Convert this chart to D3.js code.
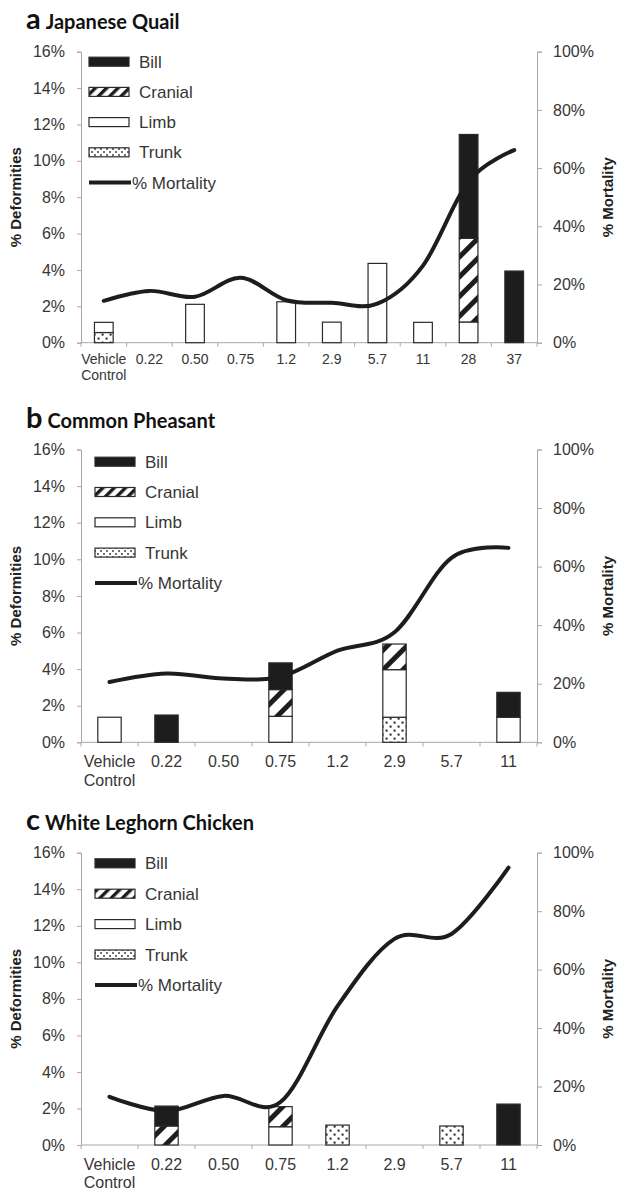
<!DOCTYPE html>
<html>
<head>
<meta charset="utf-8">
<script src="https://cdn.jsdelivr.net/npm/d3@7"></script>
<style>
  html, body { margin: 0; padding: 0; background: #fff; }
  svg { display: block; }
</style>
</head>
<body>
<script>
// Dose groups (µg/g egg) for each species
const dosesQuail = ["Vehicle Control", "0.22", "0.50", "0.75", "1.2", "2.9", "5.7", "11", "28", "37"];
const dosesPheasant = ["Vehicle Control", "0.22", "0.50", "0.75", "1.2", "2.9", "5.7", "11"];
const dosesChicken = ["Vehicle Control", "0.22", "0.50", "0.75", "1.2", "2.9", "5.7", "11"];

// % deformities by type (stacked) and % mortality, Japanese quail
const quailBill      = [0, 0, 0, 0, 0, 0, 0, 0, 5.71, 3.94];
const quailCranial   = [0, 0, 0, 0, 0, 0, 0, 0, 4.60, 0];
const quailLimb      = [0.56, 0, 2.11, 0, 2.25, 1.13, 4.36, 1.12, 1.14, 0];
const quailTrunk     = [0.56, 0, 0, 0, 0, 0, 0, 0, 0, 0];
const quailMortality = [14.4, 17.8, 15.8, 22.3, 14.6, 13.7, 13.4, 26.5, 55.5, 66.2];

// Common pheasant
const pheasantBill      = [0, 1.49, 0, 1.46, 0, 0, 0, 1.36];
const pheasantCranial   = [0, 0, 0, 1.46, 0, 1.40, 0, 0];
const pheasantLimb      = [1.37, 0, 0, 1.42, 0, 2.60, 0, 1.37];
const pheasantTrunk     = [0, 0, 0, 0, 0, 1.37, 0, 0];
const pheasantMortality = [20.6, 23.5, 21.8, 22.4, 31.3, 37.6, 63.0, 66.4];

// White Leghorn chicken
const chickenBill      = [0, 1.09, 0, 0, 0, 0, 0, 2.24];
const chickenCranial   = [0, 1.04, 0, 1.10, 0, 0, 0, 0];
const chickenLimb      = [0, 0, 0, 1.00, 0, 0, 0, 0];
const chickenTrunk     = [0, 0, 0, 0, 1.09, 0, 1.04, 0];
const chickenMortality = [16.5, 11.6, 16.8, 14.7, 47.5, 70.5, 72.2, 94.9];

// Axis ticks
const deformityTicks = [0, 2, 4, 6, 8, 10, 12, 14, 16];
const mortalityTicks = [0, 20, 40, 60, 80, 100];
const legendLabels = ["Bill", "Cranial", "Limb", "Trunk", "% Mortality"];
const stackKeys = ["Trunk", "Limb", "Cranial", "Bill"];

const W = 621, H = 1190;
const LEFT = 81, RIGHT = 537;
const AXIS_GREY = "#a8a8a8";
const TEXT_GREY = "#363636";
const INK = "#1d1d1d";
const SANS = "'Liberation Sans', Arial, Helvetica, sans-serif";
const TITLE_FONT = "Lato, 'Open Sans', 'Noto Sans', sans-serif";

const svg = d3.select("body").append("svg")
  .attr("width", W).attr("height", H)
  .attr("viewBox", `0 0 ${W} ${H}`);

// ---- fill patterns ----
const defs = svg.append("defs");

function hatch(id, period, stripe) {
  const p = defs.append("pattern")
    .attr("id", id).attr("patternUnits", "userSpaceOnUse")
    .attr("width", period).attr("height", period)
    .attr("patternTransform", "rotate(45)");
  p.append("rect").attr("width", period).attr("height", period).attr("fill", "#fff");
  p.append("rect").attr("width", stripe).attr("height", period).attr("fill", INK);
}
hatch("hatchBar", 14, 5);
hatch("hatchKey", 8, 3.4);

function dots(id, size, dot) {
  const p = defs.append("pattern")
    .attr("id", id).attr("patternUnits", "userSpaceOnUse")
    .attr("width", size).attr("height", size);
  p.append("rect").attr("width", size).attr("height", size).attr("fill", "#fff");
  p.append("rect").attr("x", size * 0.2).attr("y", size * 0.2).attr("width", dot).attr("height", dot).attr("fill", "#222");
  p.append("rect").attr("x", size * 0.7).attr("y", size * 0.7).attr("width", dot).attr("height", dot).attr("fill", "#222");
}
dots("dotsBar", 8, 2);
dots("dotsKey", 6, 1.6);

const barFill = { Bill: INK, Cranial: "url(#hatchBar)", Limb: "#fff", Trunk: "url(#dotsBar)" };
const keyFill = { Bill: INK, Cranial: "url(#hatchKey)", Limb: "#fff", Trunk: "url(#dotsKey)" };

function drawPanel(o) {
  const g = svg.append("g");
  const x = d3.scaleBand().domain(o.doses).range([LEFT, RIGHT])
    .paddingInner(0.59).paddingOuter(0.295);
  const y = d3.scaleLinear().domain([0, 16]).range([o.bottom, o.top]);
  const yR = d3.scaleLinear().domain([0, 100]).range([o.bottom, o.top]);

  // title
  const t = g.append("text")
    .attr("x", 26).attr("y", o.titleY)
    .attr("font-family", TITLE_FONT).attr("font-weight", 700).attr("fill", "#111");
  t.append("tspan").attr("font-size", 29).text(o.letter);
  t.append("tspan").attr("font-size", 20).attr("dx", 5).text(o.title);

  // left axis
  const ax = g.append("g").attr("transform", `translate(${LEFT},0)`)
    .call(d3.axisLeft(y).tickValues(deformityTicks).tickFormat(d => d + "%")
      .tickSize(4).tickPadding(12));
  // right axis
  const axR = g.append("g").attr("transform", `translate(${RIGHT},0)`)
    .call(d3.axisRight(yR).tickValues(mortalityTicks).tickFormat(d => d + "%")
      .tickSize(5).tickPadding(11));
  [ax, axR].forEach(a => {
    a.select(".domain").attr("stroke", AXIS_GREY);
    a.selectAll(".tick line").attr("stroke", AXIS_GREY);
    a.selectAll(".tick text").attr("fill", TEXT_GREY)
      .attr("font-family", SANS).attr("font-size", 16);
  });

  // category axis
  const step = x.step();
  g.append("line").attr("x1", LEFT).attr("x2", RIGHT)
    .attr("y1", o.bottom).attr("y2", o.bottom).attr("stroke", AXIS_GREY);
  g.selectAll(".xt").data(d3.range(o.doses.length + 1)).join("line")
    .attr("x1", i => LEFT + i * step).attr("x2", i => LEFT + i * step)
    .attr("y1", o.bottom).attr("y2", o.bottom + 4).attr("stroke", AXIS_GREY);
  const xl = g.selectAll(".xl").data(o.doses).join("text")
    .attr("text-anchor", "middle")
    .attr("font-family", SANS).attr("font-size", o.xFont).attr("fill", TEXT_GREY)
    .attr("y", o.bottom + o.xOffset);
  xl.each(function (d) {
    const cx = x(d) + x.bandwidth() / 2;
    const parts = d.split(" ");
    const sel = d3.select(this);
    parts.forEach((p, i) => {
      sel.append("tspan").attr("x", cx).attr("dy", i === 0 ? 0 : o.xLine).text(p);
    });
  });

  // axis titles
  const midY = (o.top + o.bottom) / 2;
  g.append("text").attr("transform", `translate(21,${midY}) rotate(-90)`)
    .attr("text-anchor", "middle").attr("font-family", SANS).attr("font-weight", 700)
    .attr("font-size", 15).attr("fill", "#222").text("% Deformities");
  g.append("text").attr("transform", `translate(613,${midY}) rotate(-90)`)
    .attr("text-anchor", "middle").attr("font-family", SANS).attr("font-weight", 700)
    .attr("font-size", 15).attr("fill", "#222").text("% Mortality");

  // stacked deformity bars
  const rows = o.doses.map((d, i) => ({
    dose: d, Bill: o.bill[i], Cranial: o.cranial[i], Limb: o.limb[i], Trunk: o.trunk[i]
  }));
  const stacked = d3.stack().keys(stackKeys)(rows);
  stacked.forEach(layer => {
    g.append("g").selectAll("rect")
      .data(layer.filter(s => s[1] - s[0] > 0))
      .join("rect")
      .attr("x", s => x(s.data.dose))
      .attr("width", x.bandwidth())
      .attr("y", s => y(s[1]))
      .attr("height", s => y(s[0]) - y(s[1]))
      .attr("fill", barFill[layer.key])
      .attr("stroke", "#2a2a2a").attr("stroke-width", 1.2);
  });

  // mortality curve
  const line = d3.line()
    .x((d, i) => x(o.doses[i]) + x.bandwidth() / 2)
    .y(d => yR(d))
    .curve(d3.curveCardinal.tension(0));
  g.append("path").datum(o.mortality).attr("d", line)
    .attr("fill", "none").attr("stroke", INK).attr("stroke-width", 4)
    .attr("stroke-linecap", "round").attr("stroke-linejoin", "round");

  // legend
  const lg = g.append("g");
  legendLabels.forEach((lab, i) => {
    const cy = o.legendY + i * o.legendGap;
    if (i < 4) {
      lg.append("rect").attr("x", o.keyX).attr("y", cy - 4.5)
        .attr("width", 40).attr("height", 9)
        .attr("fill", keyFill[lab]).attr("stroke", "#2a2a2a").attr("stroke-width", 1.2);
      lg.append("text").attr("x", o.keyX + 50).attr("y", cy).attr("dy", "0.36em")
        .attr("font-family", SANS).attr("font-size", 17).attr("fill", TEXT_GREY).text(lab);
    } else {
      lg.append("line").attr("x1", o.keyX).attr("x2", o.keyX + 42)
        .attr("y1", cy).attr("y2", cy).attr("stroke", INK).attr("stroke-width", 4);
      lg.append("text").attr("x", o.keyX + 43).attr("y", cy).attr("dy", "0.36em")
        .attr("font-family", SANS).attr("font-size", 17).attr("fill", TEXT_GREY).text(lab);
    }
  });
}

drawPanel({
  letter: "a", title: "Japanese Quail", titleY: 29,
  top: 51.7, bottom: 342.7,
  doses: dosesQuail, bill: quailBill, cranial: quailCranial, limb: quailLimb,
  trunk: quailTrunk, mortality: quailMortality,
  xFont: 14, xOffset: 21, xLine: 16.5,
  keyX: 89, legendY: 61.7, legendGap: 30.2
});

drawPanel({
  letter: "b", title: "Common Pheasant", titleY: 428,
  top: 449.5, bottom: 742.3,
  doses: dosesPheasant, bill: pheasantBill, cranial: pheasantCranial, limb: pheasantLimb,
  trunk: pheasantTrunk, mortality: pheasantMortality,
  xFont: 16, xOffset: 25, xLine: 18.5,
  keyX: 95, legendY: 461.7, legendGap: 30.3
});

drawPanel({
  letter: "c", title: "White Leghorn Chicken", titleY: 830,
  top: 852.7, bottom: 1145,
  doses: dosesChicken, bill: chickenBill, cranial: chickenCranial, limb: chickenLimb,
  trunk: chickenTrunk, mortality: chickenMortality,
  xFont: 16, xOffset: 25, xLine: 18,
  keyX: 95, legendY: 863.3, legendGap: 30.4
});
</script>
</body>
</html>
